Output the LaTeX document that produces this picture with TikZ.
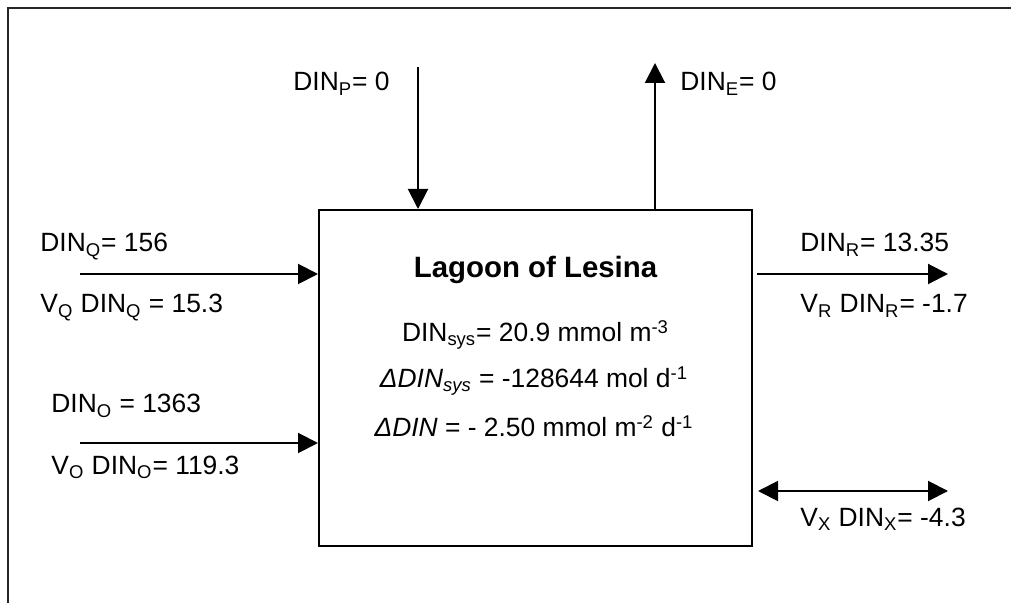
\documentclass[tikz,border=0pt]{standalone}
\usepackage{fontspec}
\setmainfont{Liberation Sans}
\usetikzlibrary{arrows.meta}
\newcommand\lblsize{\fontsize{13.2}{16}\selectfont}
\newcommand\ttlsize{\fontsize{14.7}{18}\selectfont}

\begin{document}
\begin{tikzpicture}[x=0.5pt,y=-0.5pt,
    flow/.style={line width=1pt,-{Triangle[length=10pt,width=10pt]}},
    twoway/.style={line width=1pt,{Triangle[length=10pt,width=10pt]}-{Triangle[length=10pt,width=10pt]}},
    lbl/.style={anchor=base west,inner sep=0pt,font=\lblsize},
    inbox/.style={anchor=base,inner sep=0pt,font=\lblsize}]
    \useasboundingbox (0,0) rectangle (1011,603);
    \draw[line width=1pt,black!85] (8,603) -- (8,8) -- (1011,8);
    \node[draw,line width=1pt,minimum width=216.5pt,minimum height=168pt,inner sep=0pt]
      (lagoon) at (535.5,378) {};
    \node[anchor=base,inner sep=0pt,font=\ttlsize\bfseries] (title) at (535.5,278) {Lagoon of Lesina};
    \node[inbox] (sys) at (535.5,342) {DIN\textsubscript{sys}= 20.9 mmol m\textsuperscript{-3}};
    \node[inbox] (dsys) at (534,388) {\textit{ΔDIN\textsubscript{sys}} = -128644 mol d\textsuperscript{-1}};
    \node[inbox] (ddin) at (534,437) {\textit{ΔDIN} = - 2.50 mmol m\textsuperscript{-2} d\textsuperscript{-1}};
    \coordinate (pin) at (418,67);
    \coordinate (eout) at (655,63);
    \coordinate (qin) at (80,274);
    \coordinate (oin) at (80,443);
    \coordinate (rout) at (948,274);
    \coordinate (xex) at (948,491);
    \draw[flow] (pin) -- (pin |- lagoon.north);
    \draw[flow] (eout |- lagoon.north) -- (eout);
    \draw[flow] (qin) -- (qin -| lagoon.west);
    \draw[flow] (oin) -- (oin -| lagoon.west);
    \draw[flow] ([xshift=2pt]lagoon.east |- rout) -- (rout);
    \draw[twoway] ([xshift=2.5pt]lagoon.east |- xex) -- (xex);
    \node[lbl] (dinp) at (293,91) {DIN\textsubscript{P}= 0};
    \node[lbl] (dine) at (680,91) {DIN\textsubscript{E}= 0};
    \node[lbl] (dinq) at (40,252) {DIN\textsubscript{Q}= 156};
    \node[lbl] (vq) at (40,313) {V\textsubscript{Q} DIN\textsubscript{Q} = 15.3};
    \node[lbl] (dino) at (51,413) {DIN\textsubscript{O} = 1363};
    \node[lbl] (vo) at (51,474) {V\textsubscript{O} DIN\textsubscript{O}= 119.3};
    \node[lbl] (dinr) at (800,252) {DIN\textsubscript{R}= 13.35};
    \node[lbl] (vr) at (800,313) {V\textsubscript{R} DIN\textsubscript{R}= -1.7};
    \node[lbl] (vx) at (800,526) {V\textsubscript{X} DIN\textsubscript{X}= -4.3};
  \end{tikzpicture}
\end{document}
